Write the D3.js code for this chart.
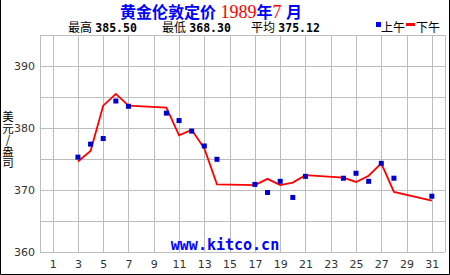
<!DOCTYPE html>
<html><head><meta charset="utf-8">
<script src="https://cdn.jsdelivr.net/npm/d3@7/dist/d3.min.js"></script>
<style>
html,body{margin:0;padding:0;background:#fff;}
svg{display:block;}
</style></head>
<body>
<script>
const days = [3,4,5,6,7,10,11,12,13,14,17,18,19,20,21,24,25,26,27,28,31];
const amValues = [375.3,377.4,378.3,384.35,383.5,382.4,381.2,379.5,377.1,374.95,370.9,369.6,371.4,368.8,372.2,371.9,372.7,371.4,374.3,371.9,369.0];
const pmValues = [374.6,376.3,383.6,385.5,383.6,383.3,378.8,379.7,376.7,370.9,370.8,371.8,370.8,371.2,372.4,372.0,371.3,372.3,374.3,369.7,368.3];
const xTickLabels = [1,3,5,7,9,11,13,15,17,19,21,23,25,27,29,31];
const yTickLabels = [360,370,380,390];
const yGrid = [360,365,370,375,380,385,390,395];
const stats = [["最高","385.50"],["最低","368.30"],["平均","375.12"]];

const W=450,H=275;
const svg=d3.select("body").append("svg").attr("width",W).attr("height",H);
const x=d3.scaleLinear().domain([0,32]).range([40,444.5]);
const y=d3.scaleLinear().domain([360,395]).range([252,35]);
const CJK="Liberation Sans, Noto Sans CJK SC, sans-serif";

// outer frame (left, right, bottom)
svg.append("path").attr("d",`M0.5,0V${H-0.5}H${W-0.5}V0`).attr("fill","none").attr("stroke","#000").attr("stroke-width",1);

const grid=svg.append("g").attr("stroke","#bdbdbd").attr("stroke-width",1).attr("shape-rendering","crispEdges");
grid.selectAll("line.h").data(yGrid).join("line").attr("class","h")
 .attr("x1",x(0)).attr("x2",x(32)).attr("y1",d=>Math.round(y(d))+0.5).attr("y2",d=>Math.round(y(d))+0.5);
grid.selectAll("line.v").data([0,...xTickLabels,32]).join("line").attr("class","v")
 .attr("y1",y(395)).attr("y2",y(360)).attr("x1",d=>Math.round(x(d))+0.5).attr("x2",d=>Math.round(x(d))+0.5);

// axes
const xa=svg.append("g").attr("transform",`translate(0,${y(360)})`)
 .call(d3.axisBottom(x).tickValues(xTickLabels).tickSize(0).tickPadding(8));
xa.select(".domain").remove();
xa.selectAll("text").attr("font-family","DejaVu Sans, sans-serif").attr("font-size",11).attr("fill","#333");
const ya=svg.append("g").attr("transform",`translate(${x(0)},0)`)
 .call(d3.axisLeft(y).tickValues(yTickLabels).tickSize(0).tickPadding(5));
ya.select(".domain").remove();
ya.selectAll("text").attr("font-family","DejaVu Sans, sans-serif").attr("font-size",11).attr("fill","#333");

// y label vertical
svg.append("text").attr("x",8).attr("y",111)
 .style("writing-mode","vertical-rl").style("text-orientation","upright")
 .attr("font-family","Noto Sans CJK SC, sans-serif").attr("font-size",11.5).attr("fill","#000")
 .text("美元/盎司");

// watermark
svg.append("text").attr("x",225).attr("y",250).attr("text-anchor","middle")
 .attr("font-family","DejaVu Sans Mono, monospace").attr("font-weight","bold").attr("font-size",15)
 .attr("fill","#0000ff").text("www.kitco.cn");

// PM line
const line=d3.line().x((d,i)=>x(days[i])).y(d=>y(d));
svg.append("path").datum(pmValues).attr("d",line).attr("fill","none").attr("stroke","#ff0000").attr("stroke-width",1.8);

// AM squares
svg.append("g").selectAll("rect").data(amValues).join("rect")
 .attr("x",(d,i)=>x(days[i])-2.5).attr("y",d=>y(d)-2.5).attr("width",5).attr("height",5).attr("fill","#0000cc");

// title
const t=svg.append("text").attr("x",120).attr("y",18).attr("font-size",16).attr("font-weight","bold")
 .attr("font-family",CJK);
t.append("tspan").attr("fill","#0000ff").text("黄金伦敦定价 ");
t.append("tspan").attr("fill","#ff0000").attr("font-family","Liberation Serif, serif").attr("font-weight","normal").attr("font-size",18).text("1989");
t.append("tspan").attr("fill","#0000ff").text("年");
t.append("tspan").attr("fill","#ff0000").attr("font-family","Liberation Serif, serif").attr("font-weight","normal").attr("font-size",18).text("7");
t.append("tspan").attr("fill","#0000ff").text(" 月");

// stats
const sx=[68,162,251];
stats.forEach((s,i)=>{
  const g=svg.append("text").attr("x",sx[i]).attr("y",31.5).attr("font-size",12).attr("fill","#000");
  g.append("tspan").attr("font-family",CJK).text(s[0]+" ");
  g.append("tspan").attr("font-family","DejaVu Sans Mono, monospace").attr("font-weight","bold").attr("font-size",11.5).text(s[1]);
});

// legend
svg.append("rect").attr("x",376).attr("y",22).attr("width",5).attr("height",5).attr("fill","#0000ff");
svg.append("text").attr("x",381).attr("y",31.5).attr("font-size",12).attr("font-family",CJK).text("上午");
svg.append("line").attr("x1",406).attr("x2",415).attr("y1",24.5).attr("y2",24.5).attr("stroke","#ff0000").attr("stroke-width",3);
svg.append("text").attr("x",416).attr("y",31.5).attr("font-size",12).attr("font-family",CJK).text("下午");
</script>
</body></html>
